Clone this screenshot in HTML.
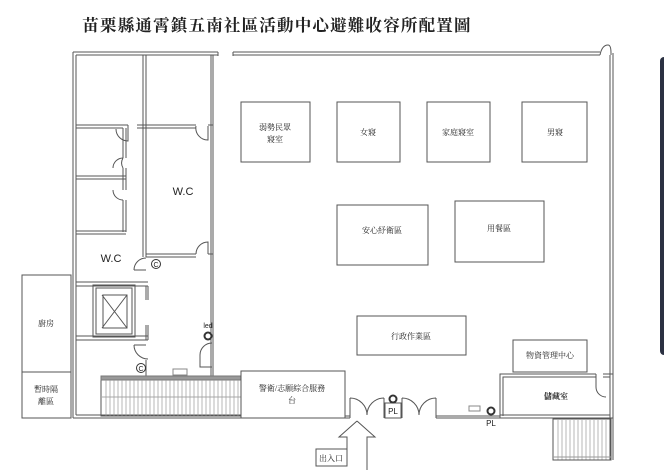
<!DOCTYPE html>
<html><head><meta charset="utf-8"><style>
html,body{margin:0;padding:0;background:#fff;width:664px;height:470px;overflow:hidden}
svg{display:block}
text{font-family:"Liberation Serif","Noto Serif CJK SC","Noto Sans CJK TC",serif;fill:#222}
text.s{font-family:"Liberation Sans",sans-serif}
</style></head><body>
<svg width="664" height="470" viewBox="0 0 664 470" xmlns="http://www.w3.org/2000/svg">
<rect width="664" height="470" fill="#fff"/>
<text x="277" y="31" text-anchor="middle" font-size="16.5" font-weight="bold" letter-spacing="1.2" fill="#111">苗栗縣通霄鎮五南社區活動中心避難收容所配置圖</text>
<rect x="660" y="57" width="10" height="298" rx="4" fill="#2b3142"/>
<g fill="none" stroke="#555" stroke-width="1">
<path d="M73 52 H218 M76 55 H218 M233 52 H600 M233 55 H600"/>
<path d="M218 52 v4 M233 52 v4" />
<path d="M600 55 q2 -10 8 -10 q3 0 3 8 v2"/>
<path d="M610 55 V460 M613 53 V460"/>
<path d="M73 52 V418 M76 55 V415"/>
<path d="M73 418 H241 M76 415 H241"/>
<path d="M143 55 V257 M146 55 V257"/>
<path d="M211 55 V376 M213 55 V376"/>
<path d="M76 125 H128 M76 128 H123 M137 125 H196 M137 128 H196 M208 125 H213"/>
<path d="M123 128 V158 M126 128 V158 M123 168 V190 M126 168 V190 M123 200 V232 M126 200 V232"/>
<path d="M76 176 H126 M76 179 H126 M76 231 H126 M76 234 H126"/>
<path d="M128 125 v16 a12 12 0 0 1 -12 -12" />
<path d="M196 126 a12 12 0 0 0 12 14 v-14"/>
<path d="M123 158 a10 10 0 0 0 0 10 M123 158 a10 10 0 0 0 -10 10 M123 200 a10 10 0 0 1 -10 -10"/>
<path d="M146 257 H196 M146 254 H196 M208 254 H213"/>
<path d="M196 254 a12 12 0 0 1 12 -12 v12"/>
<path d="M76 282 H148 M76 286 H148 M146 286 V300 M148 286 V300"/>
<path d="M134 270 a12 12 0 0 1 12 -12 M134 270 h12"/>
<path d="M76 336 H148 M76 340 H148 M146 325 V340 M148 325 V340"/>
<path d="M134 345 a14 14 0 0 0 14 14 M134 345 h12"/>
<path d="M146 360 V376"/>
<rect x="93" y="285" width="42" height="52"/>
<rect x="96" y="288" width="36" height="46"/>
<path d="M102 295 L127 328 M127 295 L102 328"/>
<rect x="103" y="295" width="24" height="33"/>
<rect x="22" y="275" width="49" height="97"/>
<rect x="22" y="372" width="49" height="46"/>
<rect x="101" y="376" width="140" height="40"/>
<rect x="101" y="376" width="140" height="4" fill="#999" stroke="#777"/>
<path d="M101 397 H241" stroke="#aaa"/>
</g>
<g stroke="#999" stroke-width="0.7">
<path d="M106 380v36M110 380v36M114 380v36M118 380v36M122 380v36M126 380v36M130 380v36M134 380v36M138 380v36M142 380v36M146 380v36M150 380v36M154 380v36M158 380v36M162 380v36M166 380v36M170 380v36M174 380v36M178 380v36M182 380v36M186 380v36M190 380v36M194 380v36M198 380v36M202 380v36M206 380v36M210 380v36M214 380v36M218 380v36M222 380v36M226 380v36M230 380v36M234 380v36M238 380v36"/>
<path d="M558 420v40M562 420v40M566 420v40M570 420v40M574 420v40M578 420v40M582 420v40M586 420v40M590 420v40M594 420v40M598 420v40M602 420v40M606 420v40"/>
</g>
<rect x="173" y="369" width="14" height="6" fill="none" stroke="#888"/>
<g fill="none" stroke="#555" stroke-width="1">
<path d="M212 343 a12 12 0 0 0 -12 12 v12 h12"/>
<rect x="241" y="371" width="104" height="47"/>
<path d="M345 416 H350 M345 418 H350"/>
<path d="M350 418 V398 M350 398 a17 17 0 0 1 17 17 M384 398 a17 17 0 0 0 -17 17 M384 398 V418"/>
<rect x="385" y="403" width="16" height="15"/>
<path d="M402 418 V398 M402 398 a17 17 0 0 1 17 17 M436 398 a17 17 0 0 0 -17 17 M436 398 V418"/>
<path d="M436 416 H500 M436 418 H500"/>
<rect x="469" y="406" width="11" height="5" stroke="#888"/>
<path d="M500 418 V374 H596 M503 416 V377 H596 M603 374 H613 M603 377 H610"/>
<path d="M596 374 V387 a10 10 0 0 0 10 10" />
<path d="M500 418 H613 M500 415 H610"/>
<rect x="553" y="419" width="58" height="41"/>
<path d="M553 457 H611" stroke="#999"/>
<rect x="241" y="102" width="69" height="60"/>
<rect x="337" y="102" width="63" height="60"/>
<rect x="427" y="102" width="63" height="60"/>
<rect x="522" y="102" width="65" height="60"/>
<rect x="337" y="205" width="91" height="60"/>
<rect x="455" y="201" width="89" height="61"/>
<rect x="357" y="316" width="109" height="39"/>
<rect x="513" y="340" width="74" height="32"/>
<path d="M357 421 L375 437 H367 V470 M357 421 L339 437 H347 V449"/>
<rect x="316" y="449" width="31" height="17"/>
</g>
<circle cx="156" cy="264" r="4.5" fill="none" stroke="#333"/><text class="s" x="156" y="267" font-size="7" text-anchor="middle">C</text>
<circle cx="141" cy="368" r="4.5" fill="none" stroke="#333"/><text class="s" x="141" y="371" font-size="7" text-anchor="middle">C</text>
<circle cx="208" cy="336" r="4.5" fill="#333"/><circle cx="208" cy="336" r="2.5" fill="#fff"/>
<text class="s" x="208" y="328" font-size="7" text-anchor="middle">led</text>
<circle cx="393" cy="399" r="4.5" fill="#333"/><circle cx="393" cy="399" r="2.5" fill="#fff"/>
<text class="s" x="393" y="414" font-size="8" text-anchor="middle">PL</text>
<circle cx="491" cy="411" r="4.5" fill="#333"/><circle cx="491" cy="411" r="2.5" fill="#fff"/>
<text class="s" x="491" y="426" font-size="8" text-anchor="middle">PL</text>
<text class="s" x="183" y="195" text-anchor="middle" font-size="11">W.C</text>
<text class="s" x="111" y="262" text-anchor="middle" font-size="11">W.C</text>
<g font-size="8" text-anchor="middle">
<text x="275" y="130">弱勢民眾</text><text x="275" y="142">寢室</text>
<text x="368" y="135">女寢</text>
<text x="458" y="135">家庭寢室</text>
<text x="555" y="135">男寢</text>
<text x="382" y="233">安心紓衛區</text>
<text x="499" y="231">用餐區</text>
<text x="411" y="339">行政作業區</text>
<text x="550" y="358">物資管理中心</text>
<text x="556" y="399" font-weight="bold">儲藏室</text>
<text x="46" y="326">廚房</text>
<text x="46" y="392">暫時隔</text><text x="46" y="404">離區</text>
<text x="292" y="391">警衛/志願綜合服務</text><text x="292" y="403">台</text>
<text x="331" y="461">出入口</text>
</g>
</svg>
</body></html>
